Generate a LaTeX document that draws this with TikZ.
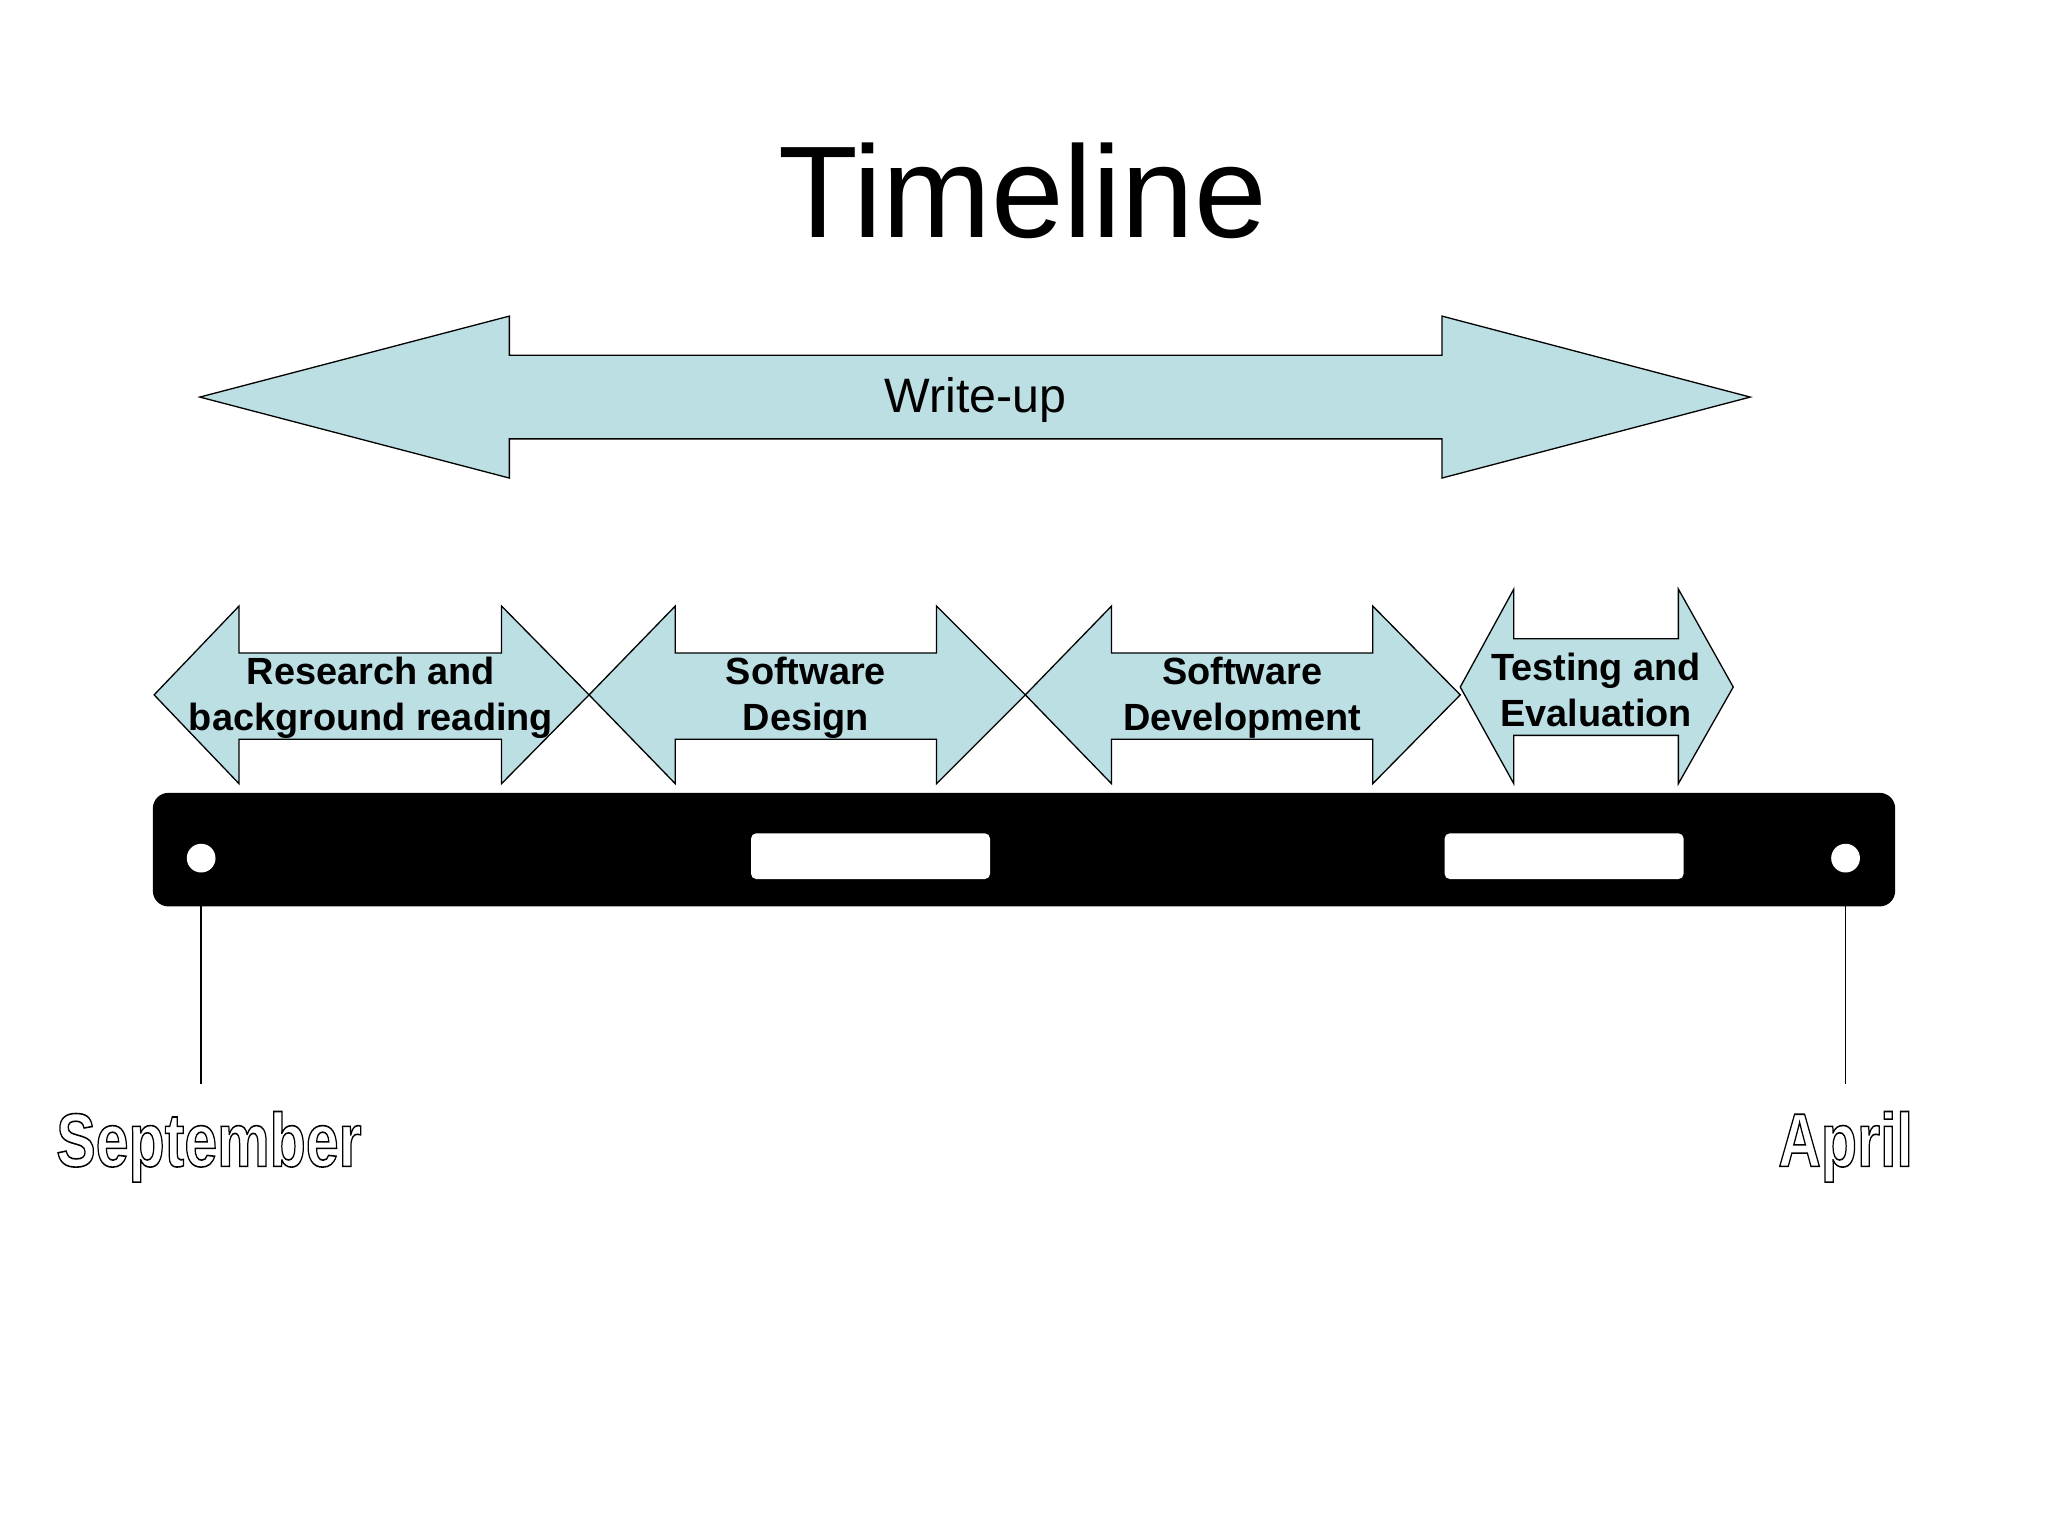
\documentclass[tikz,border=0pt]{standalone}
\usepackage{fontspec}
\setmainfont{Liberation Sans}
\begin{document}
\begin{tikzpicture}[x=1pt,y=-1pt,
  arr/.style={fill=arrfill,draw=black,line width=1pt,line join=miter},
  lab/.style={font=\fontsize{29}{35}\selectfont\bfseries,align=center},
  outl/.style={font=\fontsize{58}{60}\selectfont\bfseries,xscale=0.78,inner sep=0pt}]
\definecolor{arrfill}{HTML}{BCDFE3}
\useasboundingbox (0,0) rectangle (1568,1176);
\node (title) at (783,146) {\fontsize{100}{110}\selectfont Timeline};
% Write-up arrow
\draw[arr] (153,304) -- (390,242) -- (390,272) -- (1104,272) -- (1104,242) -- (1340,304)
  -- (1104,366) -- (1104,336) -- (390,336) -- (390,366) -- cycle;
\node (wu) at (747,306) {\fontsize{37}{40}\selectfont Write-up};
% phase arrows
\foreach \a/\b/\c/\d in {118/183/384/451, 451/517/717/785, 785/851/1051/1118}{
  \draw[arr] (\a,532) -- (\b,464) -- (\b,500) -- (\c,500) -- (\c,464) -- (\d,532)
    -- (\c,600) -- (\c,566) -- (\b,566) -- (\b,600) -- cycle;}
\draw[arr] (1118,526) -- (1159,451) -- (1159,489) -- (1285,489) -- (1285,451) -- (1327,526)
  -- (1285,600) -- (1285,563) -- (1159,563) -- (1159,600) -- cycle;
\node[lab] (p1) at (284,534) {Research and\\background reading};
\node[lab] (p2) at (617,534) {Software\\Design};
\node[lab] (p3) at (951,534) {Software\\Development};
\node[lab] (p4) at (1222,528) {Testing and\\Evaluation};
% bar
\fill[black,rounded corners=12] (117,607) rectangle (1451,694);
\fill[white,rounded corners=4] (575,638) rectangle (758,673);
\fill[white,rounded corners=4] (1106,638) rectangle (1289,673);
\fill[white] (154,657) circle (11);
\fill[white] (1413,657) circle (11);
\coordinate (s1) at (154,694); \coordinate (s2) at (154,830);
\coordinate (a1) at (1413,694); \coordinate (a2) at (1413,830);
\draw[line width=1pt] (s1) -- (s2);
\draw[line width=1pt] (a1) -- (a2);
\node[outl] (sep) at (160,878) {\color{white}\special{pdf:literal direct 2 Tr 1.2 w 0 G}September\special{pdf:literal direct 0 Tr}};
\node[outl] (apr) at (1413,878) {\color{white}\special{pdf:literal direct 2 Tr 1.2 w 0 G}April\special{pdf:literal direct 0 Tr}};
\end{tikzpicture}
\end{document}
